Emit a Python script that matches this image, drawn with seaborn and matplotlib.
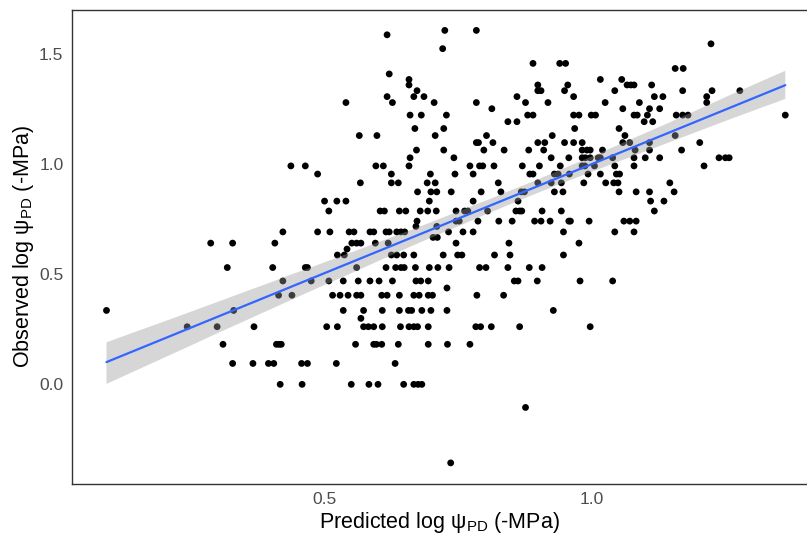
import numpy as np
import pandas as pd
import matplotlib
matplotlib.use("Agg")
import matplotlib.pyplot as plt
import seaborn as sns

# Observed log psi_PD levels (y) and the predicted values (x) of the points on each level
observed_levels = [1.609, 1.589, 1.548, 1.526, 1.459, 1.436, 1.411, 1.386, 1.361, 1.335,
                   1.308, 1.281, 1.253, 1.224, 1.194, 1.163, 1.131, 1.099, 1.065, 1.030,
                   0.993, 0.956, 0.916, 0.875, 0.833, 0.788, 0.742, 0.718, 0.693, 0.668,
                   0.642, 0.615, 0.588, 0.531, 0.470, 0.438, 0.405, 0.336, 0.300, 0.262,
                   0.182, 0.095, 0.000, -0.105, -0.357]

predicted_rows = [
    [0.726, 0.785],
    [0.618],
    [1.224],
    [0.722],
    [0.891, 0.941, 0.952],
    [1.157, 1.172],
    [0.622],
    [0.659, 1.017, 1.057],
    [0.659, 0.900, 0.956, 1.067, 1.074, 1.080, 1.113],
    [0.674, 0.900, 0.906, 0.950, 1.044, 1.171, 1.226, 1.278],
    [0.618, 0.668, 0.687, 0.861, 0.967, 1.118, 1.134, 1.216],
    [0.541, 0.628, 0.706, 0.785, 0.877, 0.919, 1.026, 1.090, 1.216],
    [0.814, 1.059, 1.109, 1.128],
    [0.661, 0.682, 0.729, 0.881, 0.891, 0.967, 0.977, 1.000, 1.008, 1.080, 1.086,
     1.105, 1.159, 1.171, 1.181, 1.363],
    [0.844, 0.861, 1.099, 1.115],
    [0.670, 0.724, 0.969, 1.052],
    [0.566, 0.599, 0.708, 0.804, 0.927, 1.063, 1.157],
    [0.785, 0.789, 0.816, 0.900, 0.913, 0.950, 0.967, 0.983, 1.059, 1.072, 1.109, 1.203],
    [0.673, 0.724, 0.799, 0.837, 0.883, 0.911, 0.983, 0.992, 0.998, 1.021, 1.082,
     1.109, 1.169],
    [0.661, 0.743, 0.925, 0.958, 0.983, 0.989, 0.998, 1.013, 1.017, 1.040, 1.080,
     1.101, 1.128, 1.239, 1.251, 1.258],
    [0.438, 0.465, 0.597, 0.611, 0.659, 0.773, 0.791, 0.797, 0.818, 0.871, 0.903,
     0.942, 0.983, 0.988, 1.006, 1.044, 1.080, 1.211],
    [0.488, 0.626, 0.699, 0.745, 0.779, 0.885, 0.891, 0.931, 0.938, 0.959, 0.994,
     1.017, 1.047, 1.053],
    [0.568, 0.626, 0.639, 0.693, 0.708, 0.826, 0.900, 0.925, 0.944, 0.986, 1.027,
     1.042, 1.050, 1.147],
    [0.675, 0.700, 0.711, 0.738, 0.794, 0.831, 0.869, 0.875, 0.931, 0.947, 1.052,
     1.084, 1.109, 1.155],
    [0.501, 0.524, 0.541, 0.697, 0.779, 0.863, 1.111, 1.136],
    [0.509, 0.605, 0.613, 0.641, 0.653, 0.680, 0.694, 0.710, 0.747, 0.763, 0.769,
     0.806, 0.859, 0.866, 0.870, 0.908, 0.944, 1.118],
    [0.674, 0.747, 0.753, 0.788, 0.827, 0.852, 0.894, 0.906, 0.923, 0.958, 0.961,
     0.996, 1.061, 1.072, 1.084],
    [0.672, 0.711],
    [0.423, 0.488, 0.511, 0.547, 0.556, 0.586, 0.593, 0.616, 0.622, 0.636, 0.644,
     0.651, 0.733, 0.760, 0.779, 0.948, 1.044, 1.080],
    [0.704, 0.712],
    [0.288, 0.329, 0.408, 0.552, 0.561, 0.569, 0.596, 0.620, 0.747, 0.846, 0.977],
    [0.543],
    [0.525, 0.538, 0.626, 0.636, 0.649, 0.668, 0.723, 0.750, 0.758, 0.819, 0.848, 0.948],
    [0.319, 0.404, 0.465, 0.469, 0.561, 0.616, 0.634, 0.644, 0.650, 0.671, 0.697,
     0.713, 0.734, 0.791, 0.803, 0.844, 0.884, 0.908],
    [0.423, 0.476, 0.509, 0.536, 0.564, 0.586, 0.603, 0.628, 0.672, 0.681, 0.695,
     0.856, 0.863, 0.899, 0.979, 1.040],
    [0.730],
    [0.415, 0.440, 0.516, 0.530, 0.545, 0.561, 0.569, 0.608, 0.618, 0.641, 0.668,
     0.678, 0.695, 0.703, 0.786, 0.836],
    [0.093, 0.331, 0.536, 0.574, 0.609, 0.641, 0.658, 0.664, 0.683, 0.700, 0.730, 0.929],
    [0.569],
    [0.244, 0.300, 0.369, 0.505, 0.525, 0.574, 0.583, 0.593, 0.609, 0.643, 0.659,
     0.668, 0.675, 0.695, 0.784, 0.793, 0.813, 0.866, 0.998],
    [0.311, 0.411, 0.416, 0.420, 0.559, 0.593, 0.598, 0.608, 0.639, 0.695, 0.731, 0.773],
    [0.329, 0.367, 0.396, 0.406, 0.458, 0.469, 0.523, 0.633],
    [0.418, 0.459, 0.551, 0.584, 0.601, 0.649, 0.668, 0.676, 0.683],
    [0.877],
    [0.737],
]

x_ticks = [0.5, 1.0]
x_tick_labels = ["0.5", "1.0"]
y_ticks = [0.0, 0.5, 1.0, 1.5]
y_tick_labels = ["0.0", "0.5", "1.0", "1.5"]

pred, obs = [], []
for lvl, xs in zip(observed_levels, predicted_rows):
    pred.extend(xs)
    obs.extend([lvl] * len(xs))
df = pd.DataFrame({"predicted": pred, "observed": obs})

sns.set_style("white")
plt.rcParams["font.family"] = ["Liberation Sans", "DejaVu Sans"]
plt.rcParams["mathtext.fontset"] = "custom"
plt.rcParams["mathtext.rm"] = "Liberation Sans"
plt.rcParams["mathtext.it"] = "Liberation Sans"
plt.rcParams["mathtext.bf"] = "Liberation Sans"

fig = plt.figure(figsize=(8.07, 5.37), dpi=100)
ax = fig.add_axes([0.0889, 0.0987, 0.912, 0.8836])

sns.scatterplot(data=df, x="predicted", y="observed", color="black", s=24,
                edgecolor="none", linewidth=0, ax=ax, zorder=2)

n_before = len(ax.collections)
sns.regplot(data=df, x="predicted", y="observed", scatter=False, ci=95,
            color="#999999", line_kws={"alpha": 0}, seed=7, n_boot=1000, ax=ax)
for coll in ax.collections[n_before:]:
    coll.set_facecolor("#999999")
    coll.set_edgecolor("none")
    coll.set_alpha(0.4)
    coll.set_zorder(3)

sns.regplot(data=df, x="predicted", y="observed", scatter=False, ci=None,
            color="#3366FF", line_kws={"lw": 1.6, "zorder": 4}, ax=ax)

ax.set_xlim(0.028, 1.405)
ax.set_ylim(-0.453, 1.704)
ax.set_xticks(x_ticks)
ax.set_xticklabels(x_tick_labels)
ax.set_yticks(y_ticks)
ax.set_yticklabels(y_tick_labels)
ax.tick_params(axis="both", length=3.5, width=0.8, color="#333333",
               labelcolor="#4D4D4D", labelsize=12.5, pad=2.5)

for side in ["left", "bottom", "top"]:
    ax.spines[side].set_color("#333333")
    ax.spines[side].set_linewidth(1.0)
ax.spines["right"].set_visible(False)

ax.set_xlabel(r"Predicted log ψ$_{\mathregular{PD}}$ (-MPa)", fontsize=15.5,
              color="black", labelpad=2)
ax.set_ylabel(r"Observed log ψ$_{\mathregular{PD}}$ (-MPa)", fontsize=15.5,
              color="black", labelpad=2)

fig.savefig("out.png", dpi=100)
